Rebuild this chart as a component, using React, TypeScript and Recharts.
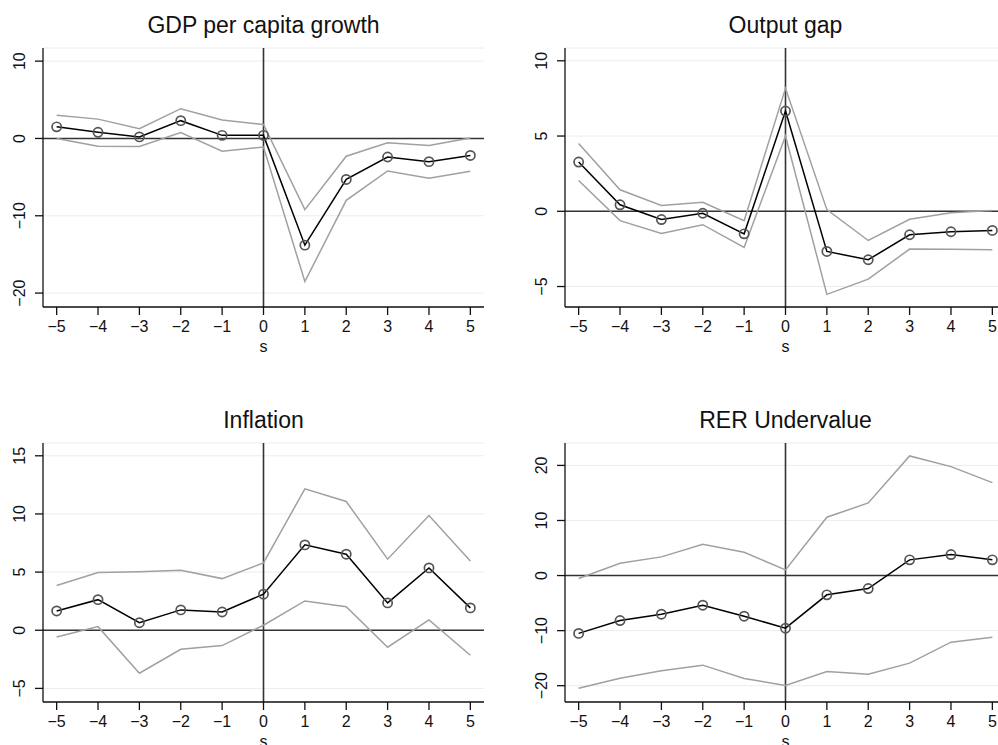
import { CartesianGrid, Line, LineChart, ReferenceLine, XAxis, YAxis } from 'recharts'

const periods = [-5, -4, -3, -2, -1, 0, 1, 2, 3, 4, 5]

const gdpMean = [1.5, 0.8, 0.2, 2.3, 0.4, 0.4, -13.8, -5.3, -2.4, -3.0, -2.2]
const gdpUpper = [3.0, 2.5, 1.25, 3.85, 2.4, 1.8, -9.2, -2.3, -0.55, -0.9, 0.05]
const gdpLower = [0.0, -1.0, -1.05, 0.75, -1.65, -1.1, -18.5, -8.0, -4.2, -5.15, -4.25]

const gapMean = [3.27, 0.43, -0.55, -0.13, -1.5, 6.66, -2.67, -3.22, -1.56, -1.36, -1.27]
const gapUpper = [4.5, 1.43, 0.38, 0.6, -0.62, 8.17, 0.11, -1.94, -0.53, -0.1, 0.05]
const gapLower = [2.05, -0.62, -1.47, -0.89, -2.4, 5.0, -5.52, -4.51, -2.51, -2.53, -2.56]

const inflMean = [1.66, 2.63, 0.65, 1.75, 1.57, 3.1, 7.34, 6.54, 2.35, 5.36, 1.92]
const inflUpper = [3.84, 4.96, 5.04, 5.16, 4.44, 5.79, 12.16, 11.07, 6.11, 9.86, 5.96]
const inflLower = [-0.58, 0.31, -3.7, -1.64, -1.32, 0.43, 2.52, 2.03, -1.46, 0.89, -2.15]

const rerMean = [-10.5, -8.17, -7.02, -5.38, -7.38, -9.56, -3.5, -2.36, 2.85, 3.81, 2.85]
const rerUpper = [-0.54, 2.24, 3.39, 5.69, 4.24, 1.03, 10.59, 13.19, 21.72, 19.78, 16.88]
const rerLower = [-20.45, -18.63, -17.3, -16.27, -18.69, -19.96, -17.42, -17.9, -15.9, -12.1, -11.2]

const FONT = '"Liberation Sans", Arial, Helvetica, sans-serif'
const PLOT_W = 441
const PLOT_H = 259

const fmt = (v: number) => String(v).replace('-', '\u2212')

const XTick = ({ x, y, payload }: any) => (
  <text x={x} y={y + 15} textAnchor='middle' fontSize={16} fill='#111' fontFamily={FONT}>
    {fmt(payload.value)}
  </text>
)

const YTick = ({ x, y, payload }: any) => (
  <text
    x={x - 8}
    y={y}
    transform={`rotate(-90 ${x - 8} ${y})`}
    textAnchor='middle'
    fontSize={16}
    fill='#111'
    fontFamily={FONT}
  >
    {fmt(payload.value)}
  </text>
)

type PanelProps = {
  title: string
  mean: number[]
  upper: number[]
  lower: number[]
  yDomain: [number, number]
  yTicks: number[]
  left: number
  top: number
  yAxisWidth: number
  plotTop: number
}

function Panel({ title, mean, upper, lower, yDomain, yTicks, left, top, yAxisWidth, plotTop }: PanelProps) {
  const data = periods.map((s, i) => ({ s, mean: mean[i], upper: upper[i], lower: lower[i] }))
  const width = yAxisWidth + PLOT_W + 15
  const height = plotTop + PLOT_H + 65
  return (
    <div style={{ position: 'absolute', left, top, width, height }}>
      <svg
        width={width}
        height={plotTop}
        style={{ position: 'absolute', left: 0, top: 0 }}
      >
        <text
          x={yAxisWidth + PLOT_W / 2}
          y={plotTop - 15}
          textAnchor='middle'
          fontSize={23}
          fill='#111'
          fontFamily={FONT}
        >
          {title}
        </text>
      </svg>
      <LineChart
        width={width}
        height={height}
        data={data}
        margin={{ top: plotTop, right: 15, bottom: 0, left: 0 }}
      >
        <CartesianGrid vertical={false} stroke='#ececec' strokeWidth={1} />
        <XAxis
          dataKey='s'
          type='number'
          domain={[-5.33, 5.33]}
          ticks={periods}
          allowDataOverflow
          height={65}
          tick={<XTick />}
          tickSize={8}
          tickMargin={2}
          stroke='#111'
          strokeWidth={1.3}
          label={{ value: 's', position: 'insideBottom', offset: 20, fontSize: 16, fill: '#111', fontFamily: FONT }}
        />
        <YAxis
          type='number'
          domain={yDomain}
          ticks={yTicks}
          allowDataOverflow
          width={yAxisWidth}
          tick={<YTick />}
          tickSize={8}
          tickMargin={2}
          stroke='#111'
          strokeWidth={1.3}
        />
        <ReferenceLine y={0} stroke='#333' strokeWidth={1.6} />
        <ReferenceLine x={0} stroke='#333' strokeWidth={1.6} />
        <Line dataKey='upper' stroke='#a0a0a0' strokeWidth={1.5} dot={false} isAnimationActive={false} />
        <Line dataKey='lower' stroke='#a0a0a0' strokeWidth={1.5} dot={false} isAnimationActive={false} />
        <Line
          dataKey='mean'
          stroke='#000'
          strokeWidth={1.5}
          dot={{ r: 4.6, stroke: '#555', strokeWidth: 1.7, fill: 'none' }}
          isAnimationActive={false}
        />
      </LineChart>
    </div>
  )
}

export default function App() {
  return (
    <div
      style={{
        position: 'absolute',
        left: 0,
        top: 0,
        width: 998,
        height: 745,
        overflow: 'hidden',
        background: '#fff',
      }}
    >
      <Panel
        title='GDP per capita growth'
        mean={gdpMean}
        upper={gdpUpper}
        lower={gdpLower}
        yDomain={[-21.8, 11.7]}
        yTicks={[-20, -10, 0, 10]}
        left={0}
        top={0}
        yAxisWidth={43}
        plotTop={48}
      />
      <Panel
        title='Output gap'
        mean={gapMean}
        upper={gapUpper}
        lower={gapLower}
        yDomain={[-6.36, 10.85]}
        yTicks={[-5, 0, 5, 10]}
        left={499}
        top={0}
        yAxisWidth={66}
        plotTop={48}
      />
      <Panel
        title='Inflation'
        mean={inflMean}
        upper={inflUpper}
        lower={inflLower}
        yDomain={[-6.17, 16.1]}
        yTicks={[-5, 0, 5, 10, 15]}
        left={0}
        top={372}
        yAxisWidth={43}
        plotTop={71}
      />
      <Panel
        title='RER Undervalue'
        mean={rerMean}
        upper={rerUpper}
        lower={rerLower}
        yDomain={[-22.96, 24.07]}
        yTicks={[-20, -10, 0, 10, 20]}
        left={499}
        top={372}
        yAxisWidth={66}
        plotTop={71}
      />
    </div>
  )
}
